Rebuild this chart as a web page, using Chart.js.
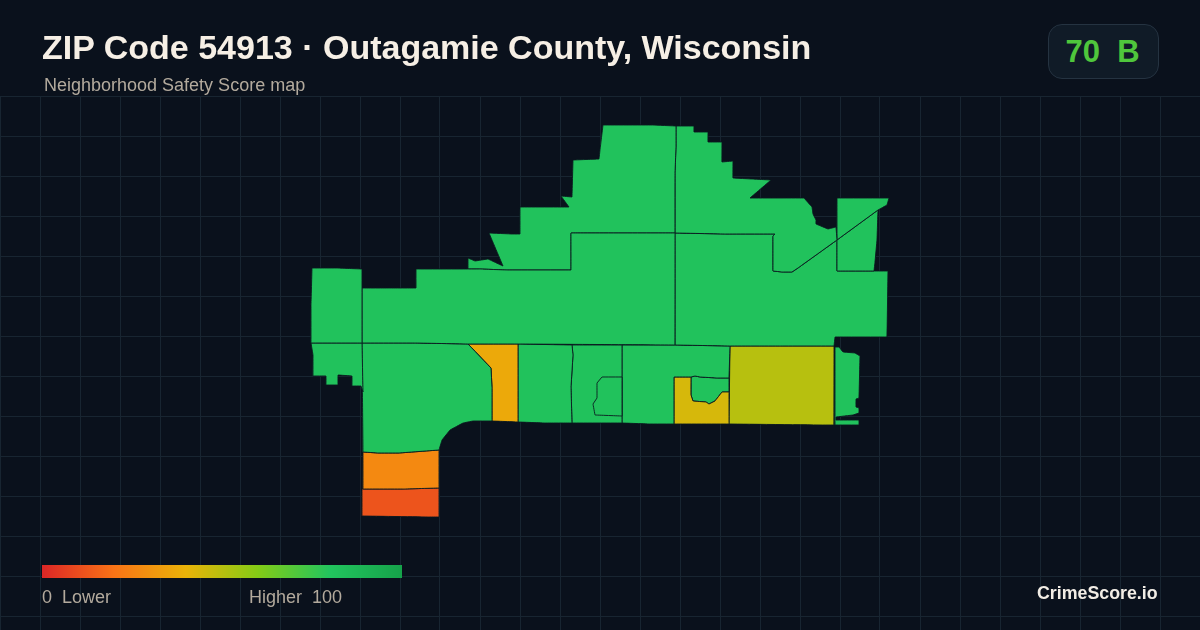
<!DOCTYPE html>
<html lang="en">
<head>
<meta charset="utf-8"/>
<title>ZIP Code 54913 · Outagamie County, Wisconsin</title>
<script src="https://cdn.jsdelivr.net/npm/chart.js@4.4.0/dist/chart.umd.min.js"></script>
<style>
html,body{margin:0;padding:0;background:#0a111c;overflow:hidden}
#wrap{position:relative;width:1200px;height:630px;background:#0a111c;font-family:'Liberation Sans',Arial,sans-serif}
#map{position:absolute;left:0;top:0;width:1200px;height:630px}
.t{position:absolute;white-space:pre;line-height:1}
#title{left:42px;top:30px;font-size:34px;font-weight:700;color:#f6efe5}
#sub{left:44px;top:76px;font-size:18px;color:#b3aa9d}
#badge{position:absolute;left:1048px;top:24px;width:107px;height:53px;padding-right:2px;border:1px solid #253341;border-radius:14px;background:#101b27;text-align:center;font-size:31px;line-height:53px;font-weight:700;color:#4fc63c;white-space:pre}
#bar{position:absolute;left:42px;top:565px;width:360px;height:13px}
#lo{left:42px;top:588px;font-size:18px;color:#b3aa9d}
#hi{left:249px;top:588px;font-size:18px;color:#b3aa9d}
#brand{left:1037px;top:585px;font-size:17.8px;font-weight:700;color:#f2ede5}
</style>
</head>
<body>
<div id="wrap">
  <canvas id="map" width="1200" height="630"></canvas>
  <div class="t" id="title">ZIP Code 54913 · Outagamie County, Wisconsin</div>
  <div class="t" id="sub">Neighborhood Safety Score map</div>
  <div id="badge">70  B</div>
  <div id="bar"></div>
  <div class="t" id="lo">0  Lower</div>
  <div class="t" id="hi">Higher  100</div>
  <div class="t" id="brand">CrimeScore.io</div>
</div>
<script>
// Color scale (score -> color)
const scaleStops = [0, 20, 40, 60, 80, 100];
const scaleColors = ['#dc2626', '#f97316', '#eab308', '#84cc16', '#22c55e', '#16a34a'];

// Tract outlines in map units
// Chart.js paints dataset 0 last, so O (inside N) has to come before N
const tractNames = ['A','B','C','D','E','F','G','H','I','J','K','L','M','O','N','P','Q','R','S','T'];
const tractScores = [82,82,82,82,82,82,82,82,82,27,12,37,82,82,82,82,44,82,50,82];

const A = [[312,268],[337,268],[362,269],[362,343],[311,343],[311,305]];
const B = [[362,288],[389,288],[416,288],[416,269],[468,269],[480,269],[507,270],[571,270],[571,233],[675,233],[675,345],[519,344],[468,344],[415,343],[362,343]];
const C = [[468,258],[475,261],[488,259],[503,266],[489,233],[512,234],[520,234],[520,207],[569,207],[561,196],[572,197],[573,160],[599,159],[600,150],[603,125],[653,125],[676,126],[676,147],[675,173],[675,233],[571,233],[571,270],[507,270],[480,269],[468,269]];
const D = [[676,126],[694,126],[694,132],[708,132],[708,142],[722,142],[722,162],[733,161],[733,178],[752,179],[771,180],[750,198],[804,198],[812,207],[813,214],[816,220],[816,224],[828,229],[836,227],[837,240],[798,268],[792,272],[782,272],[773,271],[773,236],[775,234],[725,234],[675,233],[675,173],[676,147]];
const E = [[837,198],[889,198],[887,205],[878,210],[837,240]];
const F = [[878,210],[877,240],[875,262],[874,271],[837,271],[837,240]];
const G = [[675,233],[725,234],[775,234],[773,236],[773,271],[782,272],[792,272],[798,268],[837,240],[837,271],[874,271],[888,271],[887,337],[835,337],[834,346],[780,346],[730,346],[675,345]];
const H = [[311,343],[362,343],[363,392],[361,386],[352,386],[352,376],[338,375],[338,385],[326,385],[326,376],[313,376],[313,355]];
const I = [[362,343],[415,343],[468,344],[491,368],[492,387],[492,421],[473,421],[463,423],[450,430],[442,440],[439,450],[399,453],[378,453],[363,452]];
const J = [[363,452],[378,453],[399,453],[439,450],[439,488],[404,489],[363,489]];
const K = [[362,489],[404,489],[439,488],[439,517],[428,517],[362,516]];
const L = [[468,344],[493,344],[518,344],[518,422],[492,421],[492,387],[491,368]];
const M = [[518,344],[572,345],[573,355],[571,387],[572,423],[545,423],[518,422]];
const N = [[572,345],[622,345],[622,423],[572,423],[571,387],[573,355]];
const O = [[622,377],[602,377],[597,383],[597,398],[593,404],[595,415],[622,416]];
const P = [[622,345],[675,345],[730,346],[729,378],[717,378],[700,377],[695,376],[691,377],[674,377],[674,424],[650,424],[622,423]];
const Q = [[674,377],[691,377],[691,395],[693,401],[706,402],[709,404],[715,401],[722,392],[729,392],[729,424],[674,424]];
const R = [[691,377],[695,376],[700,377],[717,378],[729,378],[729,392],[722,392],[715,401],[709,404],[706,402],[693,401],[691,395]];
const S = [[730,346],[748,346],[834,346],[834,425],[822,425],[729,424]];
const T = [[835,347],[839,347],[843,352],[855,353],[860,356],[859,398],[856,399],[856,407],[859,408],[859,413],[853,415],[836,417],[836,420],[859,420],[859,425],[835,425]];
const tracts = [A,B,C,D,E,F,G,H,I,J,K,L,M,O,N,P,Q,R,S,T];

// Background grid
const gridCols = [0,40,80,120,160,200,240,280,320,360,400,440,480,520,560,600,640,680,720,760,800,840,880,920,960,1000,1040,1080,1120,1160,1200];
const gridRows = [96,136,176,216,256,296,336,376,416,456,496,536,576,616];

function hexToRgb(h) {
  return [1, 3, 5].map(i => parseInt(h.slice(i, i + 2), 16));
}

function scoreColor(v) {
  let i = 0;
  while (i < scaleStops.length - 2 && v > scaleStops[i + 1]) i++;
  const f = (v - scaleStops[i]) / (scaleStops[i + 1] - scaleStops[i]);
  const a = hexToRgb(scaleColors[i]), b = hexToRgb(scaleColors[i + 1]);
  const c = a.map((n, k) => Math.round(n + (b[k] - n) * f));
  return 'rgb(' + c.join(',') + ')';
}

document.getElementById('bar').style.background = 'linear-gradient(90deg,' +
  scaleColors.map((c, i) => c + ' ' + scaleStops[i] + '%').join(',') + ')';

// tiny tension: the line element's fast path assumes x is sorted and would eat the vertical edges
const datasets = tracts.map((ring, i) => ({
  label: tractNames[i],
  data: ring.concat([ring[0]]).map(p => ({ x: p[0], y: p[1] })),
  showLine: true,
  fill: 'shape',
  tension: 0.0001,
  pointRadius: 0,
  borderWidth: 0.9,
  borderColor: '#0b1a20',
  backgroundColor: scoreColor(tractScores[i])
}));

new Chart(document.getElementById('map'), {
  type: 'scatter',
  data: { datasets },
  options: {
    responsive: false,
    animation: false,
    devicePixelRatio: 1,
    layout: { padding: { top: 96, left: 0, right: 0, bottom: 0 } },
    plugins: { legend: { display: false }, tooltip: { enabled: false }, title: { display: false } },
    scales: {
      x: {
        min: 0, max: 1200,
        afterBuildTicks: s => { s.ticks = gridCols.map(v => ({ value: v })); },
        ticks: { display: false },
        border: { display: false },
        grid: { color: '#182531', lineWidth: 1, drawTicks: false }
      },
      y: {
        min: 96, max: 630, reverse: true,
        afterBuildTicks: s => { s.ticks = gridRows.map(v => ({ value: v })); },
        ticks: { display: false },
        border: { display: false },
        grid: { color: '#182531', lineWidth: 1, drawTicks: false }
      }
    }
  }
});
</script>
</body>
</html>
